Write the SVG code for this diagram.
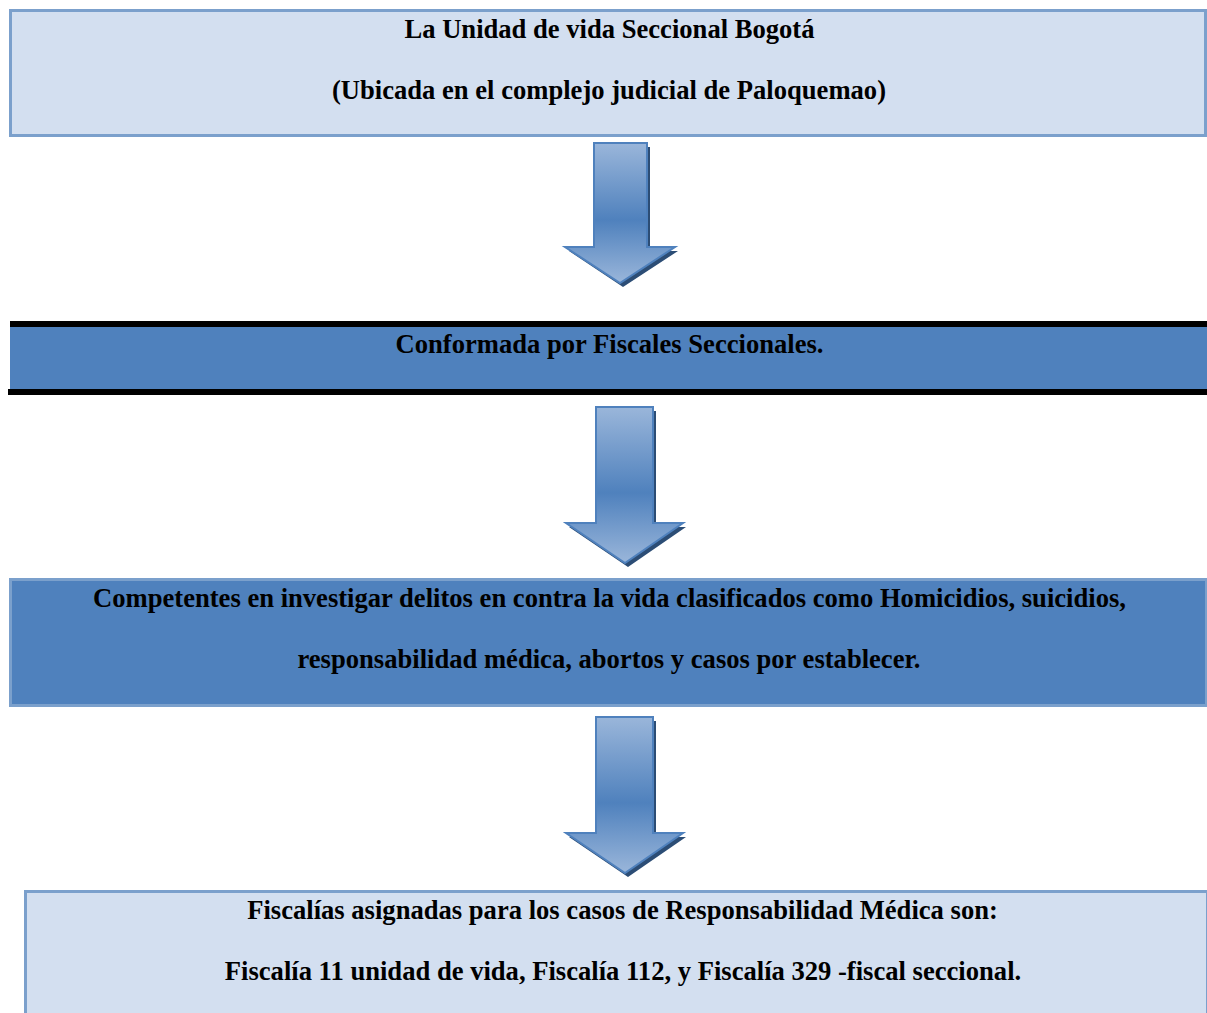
<svg xmlns="http://www.w3.org/2000/svg" width="1207" height="1013" viewBox="0 0 1207 1013">
<defs>
<linearGradient id="ag" x1="0" y1="0" x2="0" y2="1">
<stop offset="0" stop-color="#9ab6da"/>
<stop offset="0.55" stop-color="#4f81bd"/>
<stop offset="1" stop-color="#9ab6da"/>
</linearGradient>
<style>
.light{fill:#d3dff0;stroke:#7ba0cc;stroke-width:3}
.dark{fill:#4f81bd;stroke:#7ba0cc;stroke-width:3}
.arr{fill:url(#ag);stroke:#4f81bd;stroke-width:2;stroke-linejoin:miter}
.sh{fill:#2c4d75}
</style>
</defs>
<rect width="1207" height="1013" fill="#fff"/>
<g font-family="Liberation Serif" font-weight="bold" font-size="26.6px" text-anchor="middle" fill="#000">
<g id="node1">
<rect class="light" x="10.5" y="10.5" width="1195" height="125"/>
<text x="609.5" y="38">La Unidad de vida Seccional Bogotá</text>
<text x="609" y="99">(Ubicada en el complejo judicial de Paloquemao)</text>
</g>
<g id="node2">
<rect x="10" y="327" width="1197" height="62" fill="#4f81bd"/>
<rect x="10" y="321" width="1197" height="6" fill="#000"/>
<rect x="8" y="389" width="1199" height="6" fill="#000"/>
<text x="609.5" y="353">Conformada por Fiscales Seccionales.</text>
</g>
<g id="node3">
<rect class="dark" x="10.5" y="579.5" width="1196" height="126"/>
<text x="609.5" y="607">Competentes en investigar delitos en contra la vida clasificados como Homicidios, suicidios,</text>
<text x="609" y="668">responsabilidad médica, abortos y casos por establecer.</text>
</g>
<g id="node4">
<rect class="light" x="25.5" y="891.5" width="1182" height="130"/>
<text x="622.5" y="919">Fiscalías asignadas para los casos de Responsabilidad Médica son:</text>
<text x="623" y="980">Fiscalía 11 unidad de vida, Fiscalía 112, y Fiscalía 329 -fiscal seccional.</text>
</g>
</g>
<g id="connectors">
<path class="sh" d="M597 147 H650 V251 H678 L623 287 L569 251 H597 Z"/>
<path class="arr" d="M594 143 H647 V247 H675 L620 283 L565 247 H594 Z"/>
<path class="sh" d="M599 411 H656 V527 H686 L628 567 L569 527 H599 Z"/>
<path class="arr" d="M596 407 H653 V523 H683 L625 563 L566 523 H596 Z"/>
<path class="sh" d="M599 721 H656 V837 H686 L628 877 L569 837 H599 Z"/>
<path class="arr" d="M596 717 H653 V833 H683 L625 873 L566 833 H596 Z"/>
</g>
</svg>
